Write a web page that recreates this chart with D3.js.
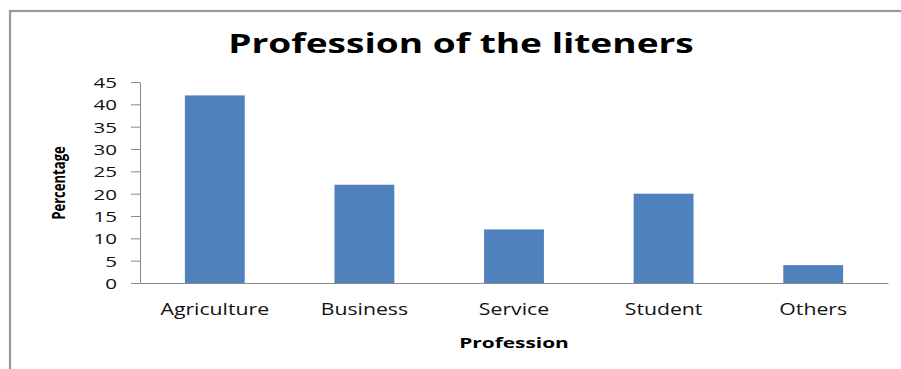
<!DOCTYPE html>
<html>
<head>
<meta charset="utf-8">
<script src="https://cdn.jsdelivr.net/npm/d3@7"></script>
<style>
  html, body { margin: 0; padding: 0; background: #fff; }
  svg { display: block; }
</style>
</head>
<body>
<svg id="chart" width="901" height="369"></svg>
<script>
// Survey results: profession of the radio listeners (percentage)
const categories = ["Agriculture", "Business", "Service", "Student", "Others"];
const percentages = [42, 22, 12, 20, 4];
const yTicks = [0, 5, 10, 15, 20, 25, 30, 35, 40, 45];
const chartTitle = "Profession of the liteners";
const xTitle = "Profession";
const yTitle = "Percentage";

const svg = d3.select("#chart");
const W = 901, H = 369;
const plot = { left: 140, right: 888, top: 82, bottom: 283 };
const textStretch = 1.37;   // horizontal stretch of the label lettering
const axisColor = "#8a8a8a";

// frame around the chart area
svg.append("rect")
  .attr("x", 10).attr("y", 11)
  .attr("width", W + 50).attr("height", H + 50)
  .attr("fill", "#fff")
  .attr("stroke", "#999").attr("stroke-width", 2.2);

const x = d3.scaleBand()
  .domain(categories)
  .range([plot.left, plot.right])
  .paddingInner(0.6)
  .paddingOuter(0.3);

const y = d3.scaleLinear()
  .domain([0, 45])
  .range([plot.bottom, plot.top]);

// bars
svg.append("g")
  .selectAll("rect")
  .data(categories.map((c, i) => ({ c, v: percentages[i] })))
  .join("rect")
  .attr("x", d => x(d.c))
  .attr("width", x.bandwidth())
  .attr("y", d => y(d.v))
  .attr("height", d => y(0) - y(d.v))
  .attr("fill", "#4F81BD");

// y axis
const yAxis = svg.append("g")
  .attr("transform", `translate(${plot.left},0)`)
  .call(d3.axisLeft(y).tickValues(yTicks).tickSize(9).tickSizeOuter(0));
yAxis.select(".domain").attr("stroke", axisColor);
yAxis.selectAll(".tick line").attr("stroke", axisColor);
yAxis.selectAll(".tick text")
  .attr("font-family", "'Open Sans', 'DejaVu Sans', sans-serif")
  .attr("font-size", 15)
  .attr("fill", "#111")
  .attr("x", -23 / textStretch)
  .attr("dy", "0.36em")
  .attr("transform", `scale(${textStretch},1)`);

// x axis baseline
const xAxis = svg.append("g")
  .attr("transform", `translate(0,${plot.bottom})`)
  .call(d3.axisBottom(x).tickSize(0).tickSizeOuter(0));
xAxis.select(".domain").attr("stroke", axisColor);
xAxis.selectAll(".tick text").remove();

// category labels
svg.append("g")
  .selectAll("text")
  .data(categories)
  .join("text")
  .attr("transform", d => `translate(${x(d) + x.bandwidth() / 2},315) scale(${textStretch},1)`)
  .attr("text-anchor", "middle")
  .attr("font-family", "'Open Sans', 'DejaVu Sans', sans-serif")
  .attr("font-size", 15.5)
  .attr("fill", "#111")
  .text(d => d);

// chart title
svg.append("text")
  .attr("transform", `translate(461,53) scale(1.4,1)`)
  .attr("text-anchor", "middle")
  .attr("font-family", "'Open Sans', 'DejaVu Sans', sans-serif")
  .attr("font-weight", "bold")
  .attr("font-size", 26.5)
  .attr("fill", "#000")
  .text(chartTitle);

// x axis title
svg.append("text")
  .attr("transform", `translate(${(plot.left + plot.right) / 2},348) scale(1.39,1)`)
  .attr("text-anchor", "middle")
  .attr("font-family", "'Open Sans', 'DejaVu Sans', sans-serif")
  .attr("font-weight", "bold")
  .attr("font-size", 15)
  .attr("fill", "#000")
  .text(xTitle);

// y axis title (narrow lettering)
svg.append("text")
  .attr("transform", `translate(65,183) rotate(-90) scale(0.77,1)`)
  .attr("text-anchor", "middle")
  .attr("font-family", "'Open Sans', 'DejaVu Sans', sans-serif")
  .attr("font-weight", "bold")
  .attr("font-size", 17)
  .attr("fill", "#000")
  .text(yTitle);
</script>
</body>
</html>
